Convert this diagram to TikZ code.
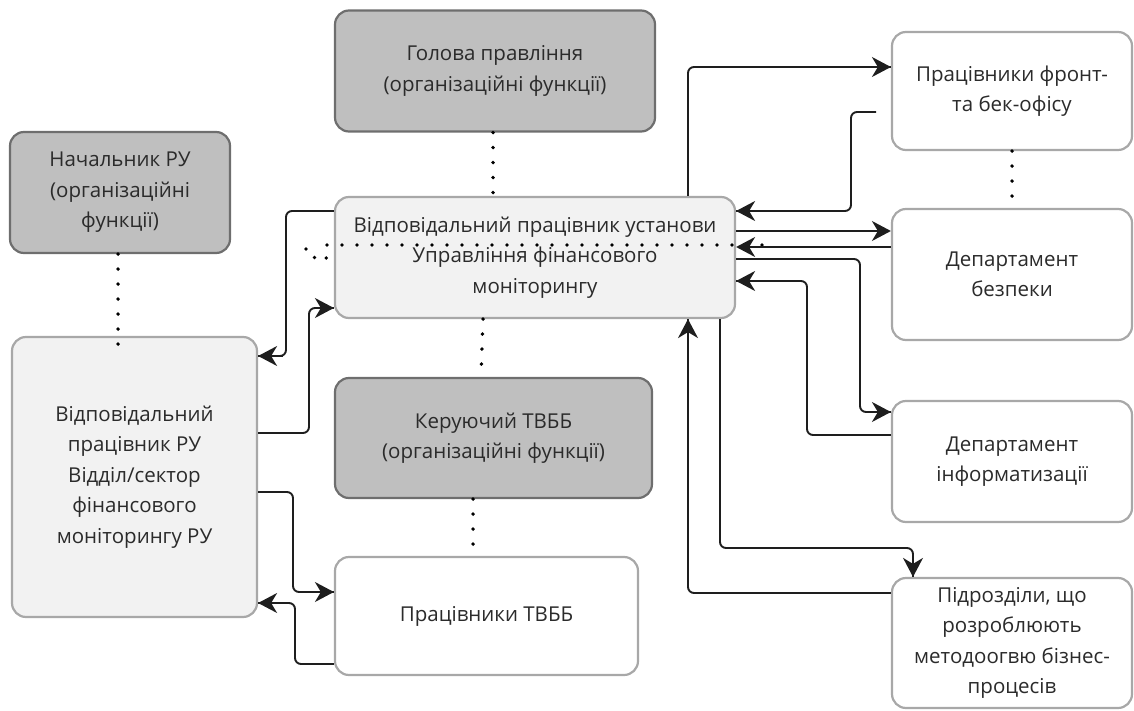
\documentclass[tikz,border=0pt]{standalone}
\usepackage{fontspec}
\setmainfont{Open Sans}
\usetikzlibrary{arrows.meta}
\definecolor{darkfill}{HTML}{BFBFBF}
\definecolor{darkline}{HTML}{6E6E6E}
\definecolor{lightfill}{HTML}{F2F2F2}
\definecolor{lightline}{HTML}{A8A8A8}
\definecolor{txt}{HTML}{2B2B2B}
\definecolor{arrcol}{HTML}{1E1E1E}
\begin{document}
\begin{tikzpicture}[x=1pt,y=-1pt,
  box/.style={draw=lightline, line width=2.2pt, rounded corners=14pt, fill=white,
    align=center, text=txt, inner sep=0pt, font=\fontsize{20.5}{30.5}\selectfont},
  darkbox/.style={box, draw=darkline, fill=darkfill},
  lightbox/.style={box, fill=lightfill},
  wire/.style={draw=arrcol, line width=1.9pt, rounded corners=6pt},
  tip/.style={draw=arrcol, line width=1.9pt, sharp corners,
    -{Stealth[length=19pt,width=20pt,inset=6pt]}},
  dots/.style={draw=black, line width=3.8pt, line cap=round, dash pattern=on 0pt off 15pt}
]
\useasboundingbox (0,0) rectangle (1134,711);

\node[darkbox, minimum width=320pt, minimum height=121pt] (head) at (495,71) {Голова правління\\(організаційні функції)};
\node[darkbox, minimum width=220pt, minimum height=121pt] (nach) at (120,192.5) {Начальник РУ\\(організаційні\\функції)};
\node[lightbox, minimum width=400pt, minimum height=121pt] (central) at (535,257.5) {Відповідальний працівник установи\\Управління фінансового\\моніторингу};
\node[lightbox, minimum width=245pt, minimum height=280pt] (ru) at (134.5,477) {Відповідальний\\працівник РУ\\Відділ/сектор\\фінансового\\моніторингу РУ};
\node[darkbox, minimum width=317pt, minimum height=120pt] (ker) at (493.5,438) {Керуючий ТВББ\\(організаційні функції)};
\node[box, minimum width=303pt, minimum height=118pt] (tvbb) at (486.5,616) {Працівники ТВББ};
\node[box, minimum width=240pt, minimum height=118pt] (front) at (1012,91) {Працівники фронт-\\та бек-офісу};
\node[box, minimum width=240pt, minimum height=131pt] (bezp) at (1012,274.5) {Департамент\\безпеки};
\node[box, minimum width=240pt, minimum height=121pt] (inf) at (1012,461.5) {Департамент\\інформатизації};
\node[box, minimum width=240pt, minimum height=130pt] (pidr) at (1012,643) {Підрозділи, що\\розроблюють\\методоогвю бізнес-\\процесів};

% dotted links
\draw[dots] (head.south -| 493,0) -- (central.north -| 493,0);
\draw[dots] (nach.south -| 118,0) -- (118,348);
\draw[dots] (central.south -| 483,0) -- (ker.north -| 481,0);
\draw[dots] (ker.south -| 473,0) -- (tvbb.north -| 473,0);
\draw[dots] (front.south -| 1012,0) -- (bezp.north -| 1012,0);
\coordinate (dA) at (762,245);
\coordinate (dB) at (321,245);
\draw[dots] (dA) -- (dB);
\coordinate (dC) at (306,249);
\coordinate (dD) at (315,258);
\coordinate (dE) at (331,258);
\draw[dots, dash pattern=on 0pt off 12pt] (dC) -- (dD) -- (dE);

% connectors right side
\coordinate (bstart) at (876,112);
\draw[wire] (central.north -| 688,0) |- (front.west |- 0,67);
\draw[tip] ([xshift=-30pt]front.west |- 0,67) -- (front.west |- 0,67);
\draw[wire] (bstart) -| (851,211) -- (central.east |- 0,211);
\draw[tip] ([xshift=30pt]central.east |- 0,211) -- (central.east |- 0,211);
\draw[tip] (central.east |- 0,231) -- (bezp.west |- 0,231);
\draw[tip] (bezp.west |- 0,247) -- (central.east |- 0,247);
\draw[wire] (central.east |- 0,259) -| (860,412) -- (inf.west |- 0,412);
\draw[tip] ([xshift=-22pt]inf.west |- 0,412) -- (inf.west |- 0,412);
\draw[wire] (inf.west |- 0,435) -| (807,281) -- (central.east |- 0,281);
\draw[tip] ([xshift=30pt]central.east |- 0,281) -- (central.east |- 0,281);
\draw[wire] (central.south -| 720,0) |- (913,548) -- (pidr.north -| 913,0);
\draw[tip] ([yshift=22pt]pidr.north -| 913,0) -- (pidr.north -| 913,0);
\draw[wire] (pidr.west |- 0,593) -| (central.south -| 688,0);
\draw[tip] ([yshift=-40pt]central.south -| 688,0) -- (central.south -| 688,0);

% connectors left side
\draw[wire] (central.west |- 0,211) -| (286,356) -- (ru.east |- 0,356);
\draw[tip] ([xshift=25pt]ru.east |- 0,356) -- (ru.east |- 0,356);
\draw[wire] (ru.east |- 0,433) -| (309,308) -- (central.west |- 0,308);
\draw[tip] ([xshift=-20pt]central.west |- 0,308) -- (central.west |- 0,308);
\draw[wire] (ru.east |- 0,492) -| (293,592) -- (tvbb.west |- 0,592);
\draw[tip] ([xshift=-30pt]tvbb.west |- 0,592) -- (tvbb.west |- 0,592);
\draw[wire] (tvbb.west |- 0,664) -| (295,603) -- (ru.east |- 0,603);
\draw[tip] ([xshift=30pt]ru.east |- 0,603) -- (ru.east |- 0,603);
\end{tikzpicture}
\end{document}
